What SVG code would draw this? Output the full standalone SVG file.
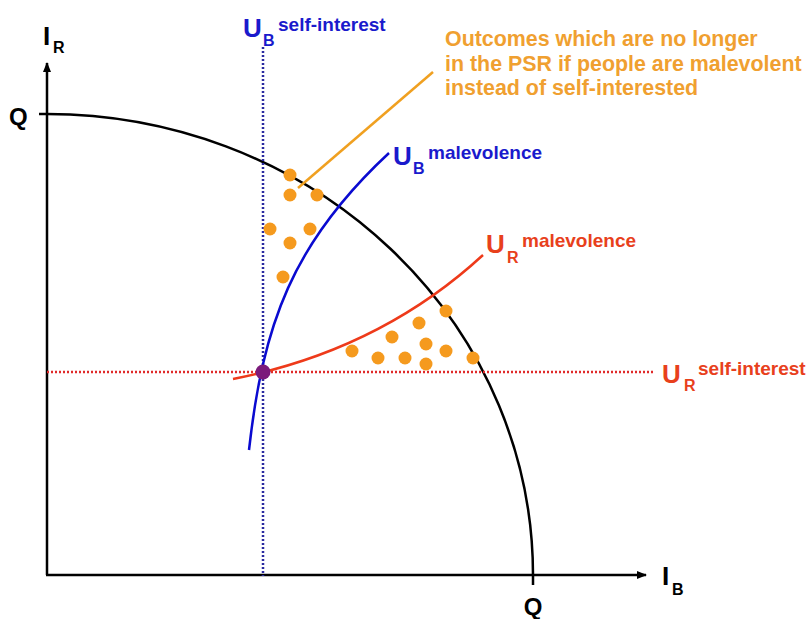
<svg xmlns="http://www.w3.org/2000/svg" width="806" height="619" viewBox="0 0 806 619">
<style>
text{font-family:"Liberation Sans",Arial,sans-serif;font-weight:bold}
.ax{stroke:#000;stroke-width:2.5;fill:none}
.blk{fill:#000}
.blue{fill:#1a1acc}
.red{fill:#e8401c}
.org{fill:#f0a030}
.dot{fill:#f59a1e}
.big{font-size:26px}
.sub{font-size:16px}
.sup{font-size:19px}
</style>
<defs>
<marker id="arr" viewBox="0 0 10 10" refX="9" refY="5" markerWidth="4" markerHeight="4" orient="auto" markerUnits="strokeWidth">
<path d="M0,1 L10,5 L0,9 z" fill="#000"/>
</marker>
</defs>
<rect width="806" height="619" fill="#fff"/>
<g id="axes">
<line class="ax" x1="47" y1="575" x2="47" y2="63" marker-end="url(#arr)"/>
<line class="ax" x1="46" y1="575" x2="646" y2="575" marker-end="url(#arr)"/>
<line class="ax" x1="39" y1="114" x2="47" y2="114"/>
</g>
<g id="connectors">
<path id="frontier" class="ax" d="M47,114 A486,461 0 0 1 533,575 L533,585"/>
<line id="ub-self" x1="263" y1="47" x2="263" y2="576" stroke="#2a2aa0" stroke-width="2.5" stroke-dasharray="2,2"/>
<line id="ur-self" x1="47" y1="372" x2="654" y2="372" stroke="#e02a2a" stroke-width="2.5" stroke-dasharray="2,2"/>
<path id="ub-mal" d="M249,450 C263,325 292,243 389,153" fill="none" stroke="#0a0ad0" stroke-width="2.5"/>
<path id="ur-mal" d="M233,379 Q380,350 483,255" fill="none" stroke="#ee3a1a" stroke-width="2.5"/>
<line id="pointer" x1="298" y1="188" x2="433" y2="72" stroke="#f0a020" stroke-width="2.5"/>
</g>
<g id="outcomes">
<circle class="dot" cx="290" cy="175" r="6.5"/>
<circle class="dot" cx="290" cy="195" r="6.5"/>
<circle class="dot" cx="317" cy="195" r="6.5"/>
<circle class="dot" cx="270" cy="229" r="6.5"/>
<circle class="dot" cx="310" cy="229" r="6.5"/>
<circle class="dot" cx="290" cy="243" r="6.5"/>
<circle class="dot" cx="283" cy="277" r="6.5"/>
<circle class="dot" cx="446" cy="311" r="6.5"/>
<circle class="dot" cx="419" cy="323" r="6.5"/>
<circle class="dot" cx="392" cy="337" r="6.5"/>
<circle class="dot" cx="426" cy="344" r="6.5"/>
<circle class="dot" cx="352" cy="351" r="6.5"/>
<circle class="dot" cx="378" cy="358" r="6.5"/>
<circle class="dot" cx="405" cy="358" r="6.5"/>
<circle class="dot" cx="446" cy="351" r="6.5"/>
<circle class="dot" cx="426" cy="364" r="6.5"/>
<circle class="dot" cx="473" cy="358" r="6.5"/>
</g>
<g id="equilibrium">
<circle cx="263" cy="372" r="7.5" fill="#7b1a7b"/>
</g>
<g id="label-ir">
<text class="blk big" x="43" y="45">I</text>
<text class="blk sub" x="53" y="53">R</text>
</g>
<g id="label-ib">
<text class="blk big" x="662" y="585">I</text>
<text class="blk sub" x="672" y="595">B</text>
</g>
<g id="label-q-left">
<text class="blk" x="9" y="125" font-size="24">Q</text>
</g>
<g id="label-q-bottom">
<text class="blk" x="533" y="615" font-size="24" text-anchor="middle">Q</text>
</g>
<g id="label-ub-self">
<text class="blue big" x="243" y="37">U</text>
<text class="blue sub" x="263" y="46">B</text>
<text class="blue sup" x="278" y="31">self-interest</text>
</g>
<g id="label-ub-mal">
<text class="blue big" x="393" y="165">U</text>
<text class="blue sub" x="413" y="174">B</text>
<text class="blue sup" x="428" y="159">malevolence</text>
</g>
<g id="label-ur-mal">
<text class="red big" x="486" y="253">U</text>
<text class="red sub" x="507" y="263">R</text>
<text class="red sup" x="522" y="247">malevolence</text>
</g>
<g id="label-ur-self">
<text class="red big" x="662" y="383">U</text>
<text class="red sub" x="684" y="391">R</text>
<text class="red sup" x="698" y="375">self-interest</text>
</g>
<g id="label-outcomes">
<text class="org" font-size="21.4" x="445" y="46">Outcomes which are no longer</text>
<text class="org" font-size="21.4" x="445" y="70.5">in the PSR if people are malevolent</text>
<text class="org" font-size="21.4" x="445" y="95">instead of self-interested</text>
</g>
</svg>
